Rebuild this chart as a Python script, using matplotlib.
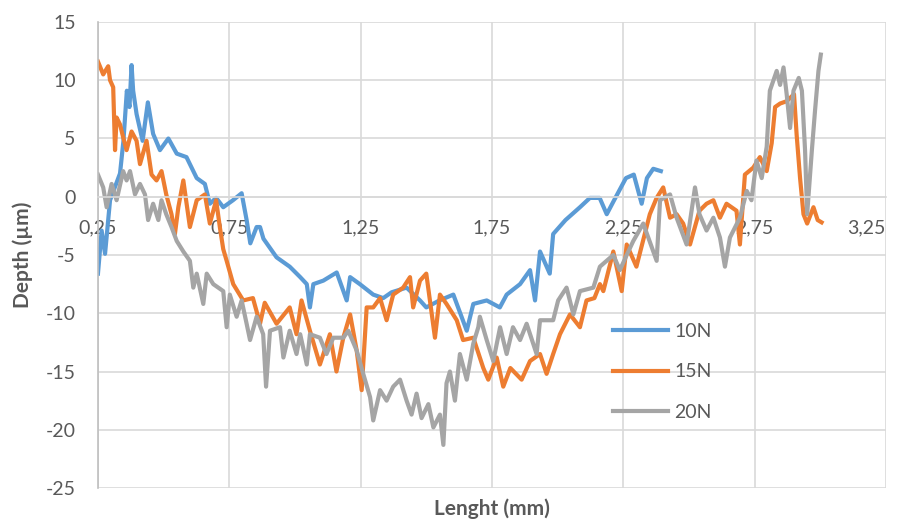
import numpy as np
import matplotlib.pyplot as plt

# 10N
x_10n = [0.250, 0.264, 0.277, 0.296, 0.334, 0.347, 0.360, 0.370, 0.378, 0.384,
         0.397, 0.420, 0.440, 0.460, 0.486, 0.518, 0.550, 0.587, 0.626, 0.657,
         0.676, 0.700, 0.727, 0.764, 0.797, 0.816, 0.830, 0.854, 0.867, 0.880,
         0.930, 0.980, 1.020, 1.045, 1.057, 1.070, 1.108, 1.159, 1.197, 1.210,
         1.247, 1.298, 1.336, 1.368, 1.425, 1.476, 1.500, 1.550, 1.603, 1.654,
         1.679, 1.730, 1.780, 1.806, 1.857, 1.895, 1.914, 1.933, 1.970, 1.983,
         2.030, 2.085, 2.123, 2.160, 2.187, 2.215, 2.260, 2.290, 2.320, 2.340,
         2.364, 2.393]
y_10n = [-6.6, -2.9, -4.9, -0.3, 2.0, 4.8, 9.1, 7.7, 11.3, 9.1,
         7.1, 4.8, 8.1, 5.4, 4.0, 5.0, 3.7, 3.4, 1.6, 1.1,
         -0.6, -0.1, -0.9, -0.3, 0.3, -2.0, -4.0, -2.6, -2.6, -3.6,
         -5.2, -6.0, -6.9, -7.5, -9.5, -7.5, -7.2, -6.5, -8.9, -6.9,
         -7.5, -8.4, -8.7, -8.2, -7.8, -8.9, -9.5, -8.9, -8.4, -11.5,
         -9.2, -8.9, -9.5, -8.4, -7.5, -6.3, -8.9, -4.7, -6.6, -3.2,
         -2.0, -0.9, -0.1, -0.1, -1.5, -0.3, 1.6, 1.9, -0.6, 1.6,
         2.4, 2.2]

# 15N
x_15n = [0.250, 0.270, 0.289, 0.296, 0.308, 0.315, 0.321, 0.334, 0.346, 0.359,
         0.378, 0.397, 0.410, 0.435, 0.454, 0.473, 0.492, 0.510, 0.530, 0.543,
         0.556, 0.575, 0.600, 0.626, 0.657, 0.676, 0.700, 0.714, 0.727, 0.740,
         0.765, 0.803, 0.840, 0.867, 0.885, 0.930, 0.980, 1.006, 1.025, 1.057,
         1.095, 1.133, 1.158, 1.184, 1.210, 1.235, 1.254, 1.273, 1.298, 1.324,
         1.349, 1.374, 1.412, 1.438, 1.450, 1.476, 1.500, 1.533, 1.552, 1.577,
         1.616, 1.640, 1.679, 1.717, 1.736, 1.768, 1.793, 1.820, 1.863, 1.895,
         1.933, 1.958, 1.983, 2.009, 2.047, 2.085, 2.110, 2.140, 2.161, 2.174,
         2.212, 2.244, 2.263, 2.300, 2.351, 2.377, 2.402, 2.428, 2.453, 2.478,
         2.504, 2.540, 2.567, 2.593, 2.618, 2.643, 2.681, 2.694, 2.713, 2.745,
         2.770, 2.796, 2.815, 2.828, 2.847, 2.872, 2.900, 2.910, 2.923, 2.936,
         2.950, 2.974, 2.990, 3.005]
y_15n = [11.6, 10.5, 11.2, 10.0, 9.4, 4.0, 6.8, 6.2, 5.1, 4.0,
         5.6, 4.8, 2.8, 4.8, 1.9, 1.4, 2.2, 0.2, -1.5, -3.2,
         -0.9, 1.4, -2.6, -0.3, 0.2, -2.3, -0.3, -2.6, -4.5, -5.5,
         -7.5, -8.9, -8.7, -10.9, -9.1, -10.9, -9.5, -11.8, -8.9, -11.5,
         -14.4, -11.8, -15.0, -12.1, -10.1, -13.2, -16.6, -9.5, -9.5, -8.7,
         -10.6, -8.4, -7.8, -6.9, -9.5, -7.2, -6.6, -12.1, -8.4, -9.2,
         -10.6, -12.3, -12.1, -14.7, -15.7, -13.8, -16.3, -14.7, -15.7, -14.1,
         -13.5, -15.2, -13.5, -11.8, -10.1, -11.2, -8.9, -8.7, -7.5, -8.1,
         -4.7, -8.1, -4.1, -6.0, -1.5, -0.1, 0.8, -1.8, -1.5, -2.3,
         -4.1, -1.2, -0.6, -0.3, -1.8, -0.6, -1.2, -4.1, 1.9, 2.5,
         3.4, 2.2, 4.6, 7.7, 8.0, 8.2, 8.8, 5.3, 1.6, -1.5,
         -2.3, -0.9, -2.0, -2.2]

# 20N
x_20n = [0.250, 0.270, 0.283, 0.302, 0.321, 0.346, 0.359, 0.372, 0.391, 0.410,
         0.429, 0.441, 0.460, 0.480, 0.492, 0.510, 0.530, 0.550, 0.575, 0.600,
         0.613, 0.626, 0.651, 0.664, 0.689, 0.727, 0.740, 0.752, 0.778, 0.797,
         0.816, 0.829, 0.854, 0.879, 0.890, 0.905, 0.943, 0.956, 0.980, 1.006,
         1.020, 1.045, 1.057, 1.095, 1.120, 1.146, 1.184, 1.203, 1.235, 1.260,
         1.286, 1.298, 1.324, 1.349, 1.374, 1.400, 1.425, 1.444, 1.463, 1.482,
         1.508, 1.527, 1.552, 1.565, 1.577, 1.590, 1.609, 1.628, 1.654, 1.679,
         1.698, 1.704, 1.730, 1.755, 1.781, 1.806, 1.830, 1.857, 1.882, 1.920,
         1.933, 1.983, 2.002, 2.034, 2.060, 2.085, 2.136, 2.161, 2.212, 2.237,
         2.263, 2.288, 2.326, 2.377, 2.390, 2.428, 2.453, 2.491, 2.523, 2.540,
         2.567, 2.593, 2.618, 2.637, 2.656, 2.694, 2.720, 2.738, 2.757, 2.777,
         2.796, 2.808, 2.834, 2.847, 2.860, 2.872, 2.885, 2.898, 2.918, 2.930,
         2.942, 2.950, 2.968, 2.980, 2.993, 3.002]
y_20n = [1.9, 0.8, -0.9, 1.1, -0.3, 2.2, 1.4, 2.2, 0.2, 1.1,
         0.2, -2.0, -0.6, -2.0, -0.3, -1.5, -2.6, -3.8, -4.7, -5.5,
         -7.8, -6.6, -9.2, -6.6, -7.5, -8.1, -11.2, -8.4, -10.3, -8.9,
         -10.9, -12.3, -10.3, -11.8, -16.3, -11.5, -11.2, -13.8, -11.5, -13.5,
         -11.8, -14.4, -11.8, -12.1, -13.5, -12.1, -12.1, -11.5, -13.2, -15.2,
         -17.2, -19.2, -16.6, -17.5, -16.3, -15.7, -17.5, -18.7, -16.9, -19.0,
         -17.8, -19.8, -18.7, -21.3, -16.0, -15.0, -17.5, -13.5, -15.7, -12.6,
         -11.2, -10.3, -12.3, -14.1, -11.2, -13.5, -11.2, -12.3, -10.9, -13.5,
         -10.6, -10.6, -8.9, -7.8, -10.1, -8.1, -7.8, -6.0, -5.0, -6.3,
         -5.0, -3.8, -2.3, -5.5, -0.3, 0.2, -1.8, -4.1, 0.8, -1.5,
         -2.9, -1.8, -3.5, -6.0, -3.5, -1.8, 0.5, -0.3, 3.1, 1.6,
         4.3, 9.1, 10.8, 9.6, 11.1, 8.8, 5.9, 9.1, 10.2, 9.1,
         4.0, -1.5, 4.0, 7.4, 10.8, 12.2]

x_ticks = [0.25, 0.75, 1.25, 1.75, 2.25, 2.75, 3.25]
x_tick_labels = ['0,25', '0,75', '1,25', '1,75', '2,25', '2,75', '3,25']
y_ticks = [-25, -20, -15, -10, -5, 0, 5, 10, 15]

plt.rcParams['font.family'] = ['Lato', 'DejaVu Sans']
plt.rcParams['axes.unicode_minus'] = False
text_color = '#595959'
grid_color = '#D9D9D9'

fig = plt.figure(figsize=(9.07, 5.22), dpi=100)
ax = fig.add_axes([0.108, 0.0651, 0.8688, 0.8928])

ax.plot(x_10n, y_10n, color='#5B9BD5', lw=3, label='10N')
ax.plot(x_15n, y_15n, color='#ED7D31', lw=3, label='15N')
ax.plot(x_20n, y_20n, color='#A5A5A5', lw=3, label='20N')

ax.set_xlim(0.25, 3.25)
ax.set_ylim(-25, 15)
ax.set_xticks(x_ticks)
ax.set_xticklabels(x_tick_labels)
ax.set_yticks(y_ticks)

# gridlines like excel
ax.grid(True, color=grid_color, lw=1.2)
ax.set_axisbelow(True)
for s in ['top', 'right']:
    ax.spines[s].set_visible(False)
ax.spines['left'].set_color('#BFBFBF')
ax.spines['left'].set_linewidth(1.2)
ax.spines['bottom'].set_position(('data', 0))
ax.spines['bottom'].set_color(grid_color)
ax.spines['bottom'].set_linewidth(1.2)

ax.tick_params(axis='x', length=0, pad=16, labelsize=14, colors=text_color)
ax.tick_params(axis='y', length=0, pad=16, labelsize=14, colors=text_color)
ax.get_xticklabels()[-1].set_horizontalalignment('right')

ax.set_xlabel('Lenght (mm)', fontsize=15, fontweight='bold', color=text_color)
ax.set_ylabel('Depth (µm)', fontsize=15, fontweight='bold', color=text_color)
ax.xaxis.set_label_coords(0.5, -0.022)
ax.yaxis.set_label_coords(-0.083, 0.5)

leg = ax.legend(loc='center left', bbox_to_anchor=(0.654, 0.249), frameon=False,
                fontsize=14, handlelength=2.8, handletextpad=0.35,
                labelspacing=1.2, borderpad=0, borderaxespad=0)
for t in leg.get_texts():
    t.set_color(text_color)

fig.savefig('out.png', dpi=100)
